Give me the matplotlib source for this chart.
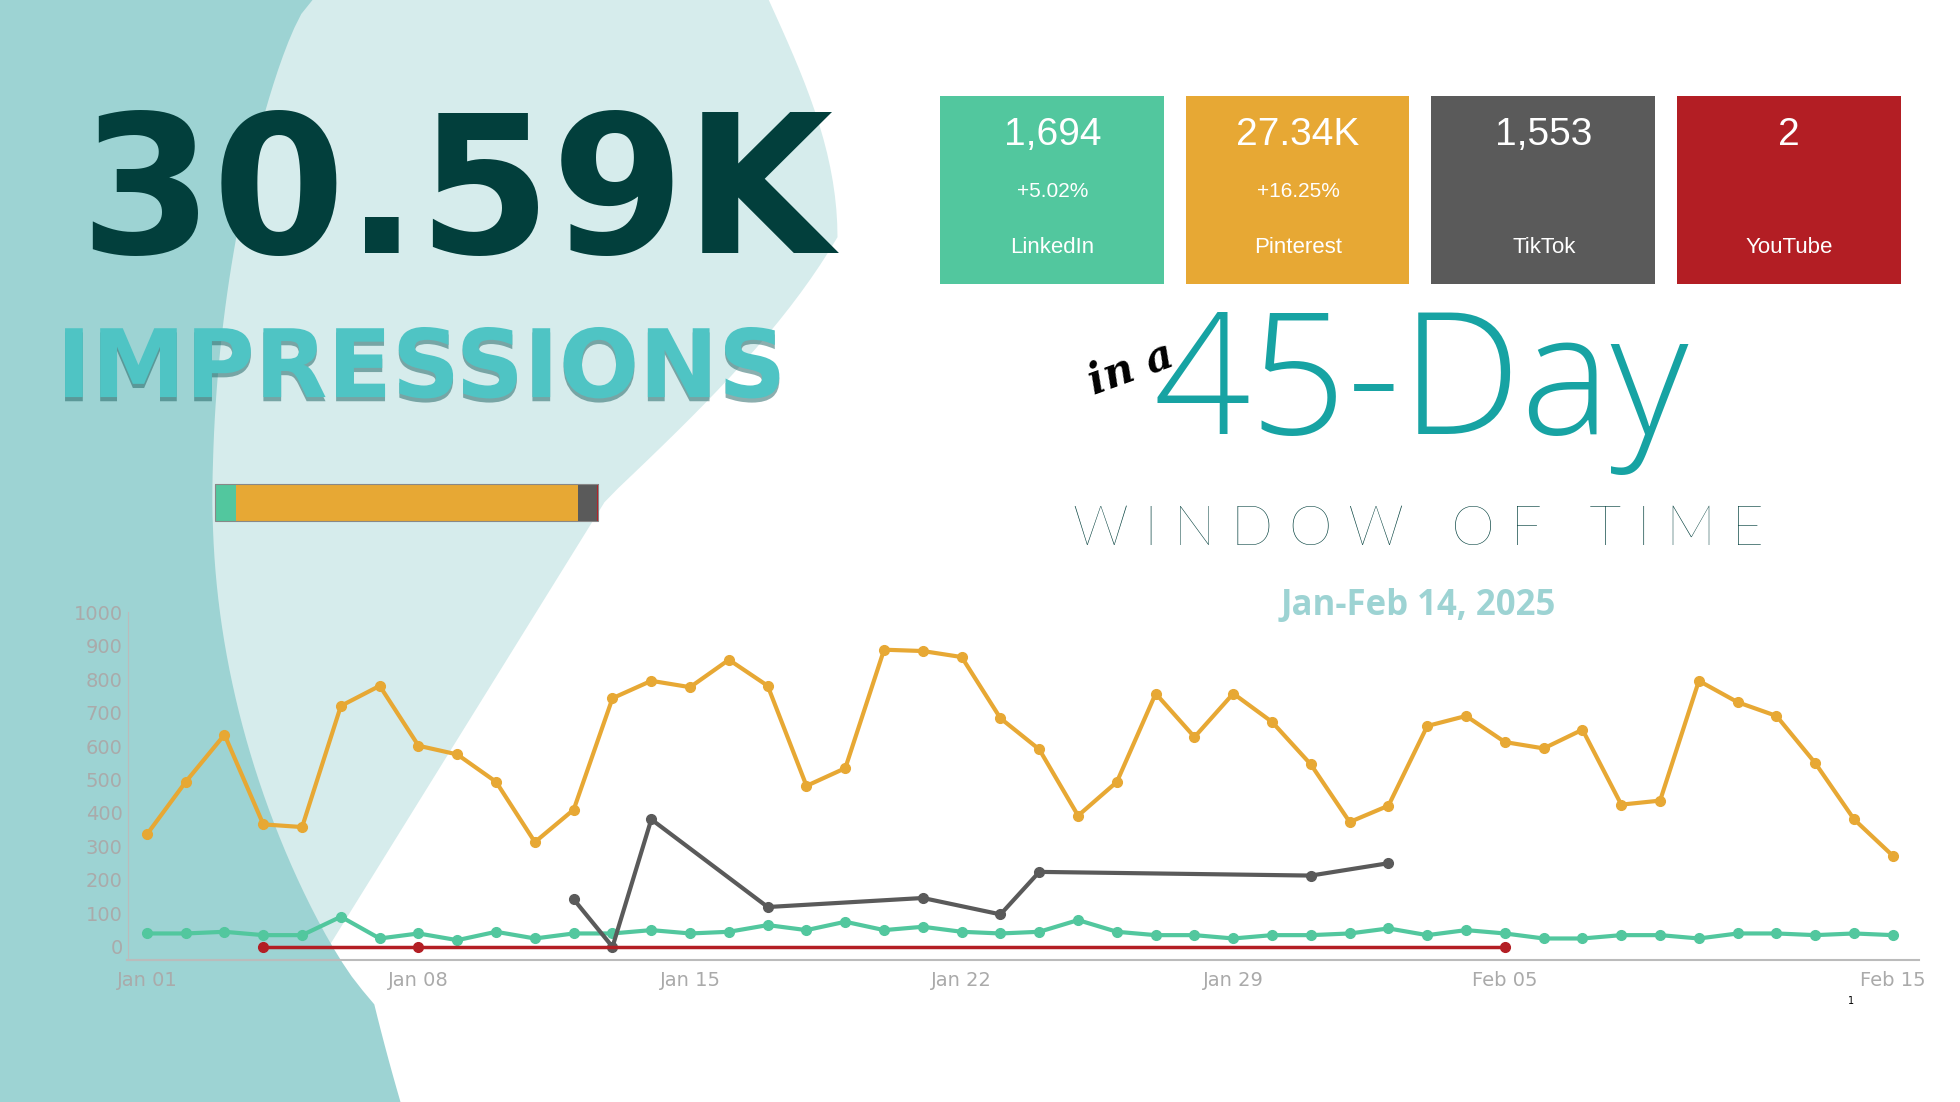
import matplotlib
matplotlib.use("Agg")
import matplotlib.pyplot as plt
import matplotlib.patheffects as pe
from matplotlib.patches import Polygon, Rectangle
import numpy as np
import pandas as pd

dates = pd.date_range("2025-01-01", "2025-02-15")
pinterest = [336,493,634,366,358,720,780,601,575,493,313,410,743,795,776,858,780,481,534,888,
             884,866,683,590,392,493,757,627,757,672,545,373,422,660,690,612,593,649,425,437,
             795,731,690,549,381,272]
linkedin = [40,40,45,35,35,90,25,40,20,45,25,40,40,50,40,45,65,50,75,50,60,45,40,45,80,45,
            35,35,25,35,35,40,55,35,50,40,25,25,35,35,25,40,40,35,40,35]
tiktok_dates = pd.to_datetime(["2025-01-12","2025-01-13","2025-01-14","2025-01-17","2025-01-21",
                               "2025-01-23","2025-01-24","2025-01-31","2025-02-02"])
tiktok = [142,0,381,119,146,97,224,213,250]
yt_line_dates = pd.date_range("2025-01-04", "2025-02-05")
yt_marker_dates = pd.to_datetime(["2025-01-04","2025-01-08","2025-02-05"])
yt_markers = [0,0,0]
card_values = ["1,694","27.34K","1,553","2"]
card_changes = ["+5.02%","+16.25%","",""]
card_names = ["LinkedIn","Pinterest","TikTok","YouTube"]
totals = [1694,27340,1553,2]

W, H = 1568, 882
C_LI, C_PI, C_TT, C_YT = "#52c79e", "#e7a834", "#5a5a5a", "#b31e24"
fig = plt.figure(figsize=(19.6, 11.02), dpi=100)
fig.patch.set_facecolor("white")

bg = fig.add_axes([0, 0, 1, 1], zorder=0)
bg.set_xlim(0, W); bg.set_ylim(H, 0); bg.axis("off")
# light curved shape (smooth outline)
s = np.linspace(0, 1, 80)
ys = s * H
xr = 615 + 55 * np.sin(np.pi * np.clip(ys / 400, 0, 1)) - np.clip(ys - 190, 0, None) * 0.62
xr = np.where(ys < 190, 615 + 55 * np.sin(np.pi * 0.5 * ys / 190), xr)
xr = np.maximum(xr, 250)
light = [(240, 0)] + list(zip(xr, ys)) + [(170, 882), (170, 0)]
bg.add_patch(Polygon(light, closed=True, color="#d6ecec", lw=0))
yd = np.linspace(0, H, 80)
xd = 250 - 80 * np.sin(np.pi * np.clip(yd / 800, 0, 1)) ** 0.7
xd = xd + np.clip(yd - 400, 0, None) ** 2 / 3300
dark = [(0, 0)] + list(zip(xd, yd)) + [(0, 882)]
bg.add_patch(Polygon(dark, closed=True, color="#9dd3d3", lw=0))

# headline
bg.text(365, 160, "30.59K", fontsize=138, fontweight="heavy", color="#023f3c",
        ha="center", va="center", family="DejaVu Sans")
bg.text(337, 297, "IMPRESSIONS", fontsize=68, fontweight="heavy", color="#4fc4c4",
        ha="center", va="center", family="DejaVu Sans",
        path_effects=[pe.withSimplePatchShadow(offset=(0, -3), shadow_rgbFace="#1a5f5f", alpha=0.5)])

# stacked share bar
x0, bw = 172, 306
tot = sum(totals); cx = x0
for v, c in zip(totals, [C_LI, C_PI, C_TT, C_YT]):
    w = bw * v / tot
    bg.add_patch(Rectangle((cx, 387), max(w, 1.5), 30, color=c, lw=0))
    cx += w
bg.add_patch(Rectangle((x0, 387), bw, 30, fill=False, ec="#888888", lw=0.8))

# cards
for i, (v, ch, nm, c) in enumerate(zip(card_values, card_changes, card_names, [C_LI, C_PI, C_TT, C_YT])):
    lx = 752 + i * 196.5
    bg.add_patch(Rectangle((lx, 77), 179, 150, color=c, lw=0))
    bg.text(lx + 90, 108, v, fontsize=28, color="white", ha="center", va="center", family="Liberation Sans")
    if ch:
        bg.text(lx + 90, 153, ch, fontsize=15, color="white", ha="center", va="center", family="Liberation Sans")
    bg.text(lx + 90, 198, nm, fontsize=16, color="white", ha="center", va="center", family="Liberation Sans")

bg.text(905, 295, "in a", fontsize=30, color="black", ha="center", va="center",
        fontstyle="italic", fontweight="bold", rotation=20, family="DejaVu Serif")
bg.text(1137, 312, "45-Day", fontsize=122, color="#17a3a3", ha="center", va="center",
        fontweight="light", family="Open Sans")
bg.text(1135, 424, "W I N D O W   O F   T I M E", fontsize=40, color="#023f3c", ha="center", va="center",
        family="Lato", fontweight="light")
bg.text(1135, 485, "Jan-Feb 14, 2025", fontsize=25, color="#9dd3d3", ha="center", va="center",
        fontweight="bold", family="Open Sans")

# line chart
l, r, top, bot = 102, 1535, 490, 768
ax = fig.add_axes([l / W, 1 - bot / H, (r - l) / W, (bot - top) / H], zorder=2)
ax.patch.set_alpha(0)
ax.plot(dates, pinterest, color=C_PI, lw=3, marker="o", ms=7)
ax.plot(dates, linkedin, color=C_LI, lw=3, marker="o", ms=7)
ax.plot(tiktok_dates, tiktok, color=C_TT, lw=3, marker="o", ms=7)
ax.plot(yt_line_dates, np.zeros(len(yt_line_dates)), color=C_YT, lw=2.5)
ax.plot(yt_marker_dates, yt_markers, color=C_YT, lw=0, marker="o", ms=7)
ax.set_ylim(-38, 1000)
ax.set_xlim(pd.Timestamp("2024-12-31 12:00"), pd.Timestamp("2025-02-15 16:00"))
ax.set_yticks(range(0, 1001, 100))
ticks = pd.to_datetime(["2025-01-01","2025-01-08","2025-01-15","2025-01-22","2025-01-29","2025-02-05","2025-02-15"])
ax.set_xticks(ticks)
ax.set_xticklabels(["Jan 01","Jan 08","Jan 15","Jan 22","Jan 29","Feb 05","Feb 15"])
ax.tick_params(colors="#aaaaaa", labelsize=14, length=0)
ax.tick_params(axis="x", pad=8)
for sp in ["top", "right"]: ax.spines[sp].set_visible(False)
ax.spines["left"].set_color("#bbbbbb"); ax.spines["bottom"].set_color("#bbbbbb")
ax.spines["bottom"].set_linewidth(1.5)
bg.text(1481, 801, "1", fontsize=7, color="black", ha="center", va="center")

fig.savefig("out.png", dpi=100)
